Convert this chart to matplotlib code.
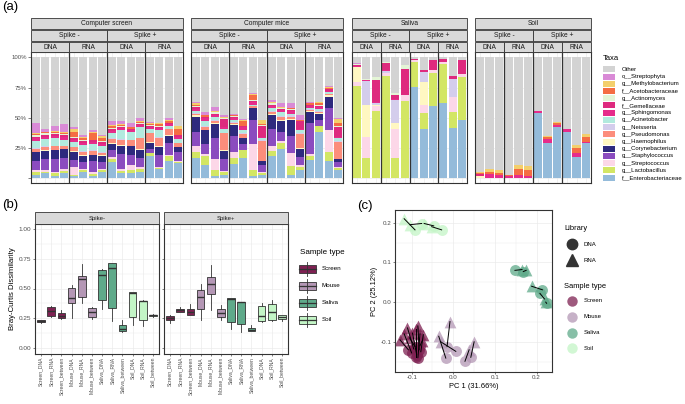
import numpy as np
import matplotlib
matplotlib.use("Agg")
import matplotlib.pyplot as plt
from matplotlib.patches import Rectangle

plt.rcParams['font.family'] = ['Liberation Sans', 'DejaVu Sans']

W, H = 685, 404

# ---------------- data: panel (a) relative abundance (%) ----------------
taxa = ["f__Enterobacteriaceae", "g__Lactobacillus", "g__Streptococcus",
        "g__Staphylococcus", "g__Corynebacterium", "g__Haemophilus",
        "g__Pseudomonas", "g__Neisseria", "g__Acinetobacter", "g__Sphingomonas",
        "f__Gemellaceae", "g__Actinomyces", "f__Acetobacteraceae",
        "g__Methylobacterium", "o__Streptophyta"]
taxa_colors = ["#94BBDA", "#D3E664", "#FCD7E8", "#8B4CBF", "#2E2A7E",
               "#FFF7C2", "#FC8D7B", "#D4CDEC", "#B2EADE", "#E62C8B",
               "#DE2A7E", "#E4F5D6", "#F56D43", "#F3CF6C", "#D98AD6"]
other_color = "#D3D3D3"

groups = ["Computer screen", "Computer mice", "Saliva", "Soil"]
spikes = ["Spike -", "Spike +"]
libraries = ["DNA", "RNA"]

# rows: Spike- DNA, Spike- RNA, Spike+ DNA, Spike+ RNA (bars in order); columns follow taxa
screen_bars = [
    [3, 2, 1.5, 7.5, 7.5, 0.5, 2.5, 0.5, 6, 2, 1.5, 1, 1, 0.5, 9],
    [4, 1.5, 1, 9, 7, 0.5, 3, 0.5, 6, 2, 1.5, 1, 1, 0.5, 2],
    [2, 2, 1, 11, 7, 0.5, 3, 0.5, 6, 2, 1.5, 1, 1, 0.5, 4],
    [4, 2, 2, 9, 7, 0.5, 2, 0.5, 5, 2, 1.5, 1, 1, 1, 6],
    [1.5, 1.5, 6, 6, 7, 0.5, 3, 0.5, 4, 2, 1.5, 0.5, 4, 3, 1],
    [5, 1.5, 1, 6, 5, 0.5, 3, 0.5, 5, 2, 1.5, 0.5, 2, 1, 1],
    [2, 1.5, 1.5, 9, 5, 0.5, 3, 0.5, 5, 2, 1.5, 0.5, 5, 1, 1.5],
    [5, 1.5, 1, 6, 5, 0.5, 2, 0.5, 5, 2, 1.5, 0.5, 3, 1.5, 1],
    [13, 2.5, 2, 6, 5, 0.5, 3.5, 0.5, 4, 2, 1.5, 1, 1.5, 1, 3.5],
    [4, 2, 2, 12, 7, 0.5, 4.5, 0.5, 7.5, 1.5, 1, 0.5, 1, 1, 2],
    [4, 3, 3.5, 9, 7, 0.5, 4.5, 0.5, 6, 1.5, 1, 0.5, 1, 0.5, 3.5],
    [5.5, 2, 1.5, 7.5, 7, 0.5, 9, 0.5, 9, 1.5, 1, 0.5, 1, 0.5, 3],
    [18, 2.5, 0.5, 3, 5.5, 0.5, 7, 0.5, 3, 2, 1, 0.5, 1, 1, 0.5],
    [7.5, 1, 1, 9.5, 7, 0.5, 7, 0.5, 5.5, 2, 1, 0.5, 1.5, 1, 0.5],
    [14, 4.5, 1, 10, 5.5, 0.5, 5, 0.5, 2, 1.5, 1, 0.5, 1.5, 1, 1.5],
    [12.5, 1, 0.5, 7.5, 4, 0.5, 3, 0.5, 3, 2, 1, 0.5, 5, 2, 0.5],
]
mice_bars = [
    [17, 4.5, 5, 11.5, 12.5, 1.5, 1, 1, 1.5, 2, 1.5, 1, 1, 1, 1],
    [11, 7, 2, 8, 11.5, 0.5, 2.5, 1, 4, 2, 1, 0.5, 1, 0.5, 2],
    [2, 5, 9, 17, 12, 1, 1.5, 1, 2, 2, 1, 1, 0.5, 0.5, 3.5],
    [3, 2, 1, 9.5, 7, 0.5, 14, 0.5, 3.5, 1, 7, 0.5, 0.5, 0.5, 2],
    [12, 5, 4.5, 13.5, 9, 1, 1, 0.5, 2, 1.5, 1, 0.5, 0.5, 0.5, 1],
    [17, 6, 0.5, 4.5, 5, 0.5, 3, 0.5, 3, 2, 1, 0.5, 4, 1, 0.5],
    [1.5, 5, 21.5, 20, 10, 0.5, 1, 0.5, 1, 2, 1, 0.5, 4.5, 1, 0.5],
    [3, 1.5, 1, 5.5, 3, 0.5, 16.5, 0.5, 2, 1, 9, 0.5, 1, 3, 0.5],
    [18, 4.5, 4, 14, 12, 1, 1.5, 1, 2, 2, 1, 1, 0.5, 0.5, 2],
    [24, 5, 2, 7, 9.5, 1, 2, 1, 3, 2, 1, 0.5, 0.5, 0.5, 3.5],
    [3, 7, 11, 14, 13, 1, 2, 1, 1.5, 2, 1, 1, 0.5, 0.5, 4],
    [6.5, 2.5, 2, 6.5, 7, 0.5, 11.5, 0.5, 2.5, 1, 6.5, 0.5, 0.5, 0.5, 3.5],
    [15, 3, 2, 26, 9, 1, 0.5, 0.5, 1, 1.5, 1, 0.5, 1, 0.5, 0.5],
    [38, 5, 0.5, 4.5, 5.5, 0.5, 1, 0.5, 1.5, 2, 1, 0.5, 1.5, 1, 0.5],
    [14.5, 7.5, 18, 18, 9.5, 1, 1, 0.5, 1, 1.5, 1, 0.5, 1, 0.5, 0.5],
    [6.5, 2, 1, 4, 2, 0.5, 14, 0.5, 2.5, 1, 8.5, 0.5, 3, 3, 0.5],
]
saliva_bars = [
    [0, 76, 3.3, 0, 0, 12.5, 0, 0, 0, 1, 1, 1, 0, 0, 0.5],
    [0, 16.5, 18, 0, 0, 26.5, 0, 19.5, 0, 0.5, 0.5, 0.5, 0, 0, 0],
    [0, 55.5, 4.5, 0, 0, 1, 0, 1, 0, 1, 18, 3, 0, 0, 0],
    [0, 85, 2, 0, 0, 0, 0, 2, 0, 1, 5.5, 0.5, 0, 0, 0],
    [0, 16.5, 24, 0, 0, 5.5, 0, 19, 0, 0.5, 3.5, 1.5, 0, 0, 0],
    [0, 64, 4.5, 0, 0, 0, 0, 0, 0, 0, 22, 3.5, 0, 0, 0],
    [75.5, 20.5, 2, 0, 0, 0, 0, 0, 0, 0, 1, 0, 0, 0, 0],
    [40.5, 13.5, 6.3, 0, 0, 19, 0, 9, 0, 0, 1, 0, 0, 0, 0],
    [60, 27.5, 2.5, 0, 0, 0, 0, 0, 0, 0, 7.5, 0, 0, 0, 0],
    [62, 32.5, 2, 0, 0, 0, 0, 0, 0, 0, 2, 0, 0, 0, 0],
    [41.5, 13.5, 12, 0, 0, 0, 0, 15, 0, 0, 2.5, 0, 0, 0, 0],
    [48.5, 35.5, 2, 0, 0, 0, 0, 0, 0, 0, 12, 0, 0, 0, 0],
]
soil_bars = [
    [0, 0, 0, 0, 0, 1.5, 0, 0, 0, 0, 2, 0, 1, 1, 0],
    [0, 0, 0, 0, 0, 0, 0, 0, 0, 3.3, 0, 0, 1.6, 2.5, 0],
    [0, 0, 0, 0, 0, 0, 0, 0, 0, 3, 0, 0, 1.6, 2.2, 0],
    [0, 0, 0, 0, 0, 0, 0, 0, 0, 1.5, 0, 0, 1, 0.3, 0],
    [0, 0, 0, 0, 0, 0, 0, 0, 0, 2.5, 0, 0, 5, 3.5, 0],
    [0, 0, 0, 0, 0, 0, 0, 0, 0, 2, 0, 0, 4.5, 3.5, 0],
    [54, 0, 0, 0, 0, 0, 0, 0, 0, 1.6, 0, 0, 0, 0, 0],
    [28.8, 0, 0, 0, 0, 0, 0, 0, 0, 4, 0, 0, 1, 1, 0],
    [42, 0, 0, 0, 0, 0, 0, 0, 0, 2, 0, 0, 1.5, 1, 0],
    [38.4, 0, 0, 0, 0, 0, 0, 0, 0, 2, 0, 0, 0, 0.6, 0],
    [17.3, 0, 0, 0, 0, 0, 0, 0, 0, 3.3, 0, 0, 4, 2.7, 0],
    [28.8, 0, 0, 0, 0, 0, 0, 0, 0, 1.5, 0, 0, 3.5, 2.7, 0],
]

# ---------------- data: panel (b) Bray-Curtis boxplots ----------------
box_categories = ["Screen_DNA", "Screen_RNA", "Screen_between",
                  "Mouse_DNA", "Mouse_RNA", "Mouse_between",
                  "Saliva_DNA", "Saliva_RNA", "Saliva_between",
                  "Soil_DNA", "Soil_RNA", "Soil_between"]
sample_types = ["Screen", "Mouse", "Saliva", "Soil"]
type_colors = ["#7E2152", "#B497B5", "#5FAA8A", "#C3F5C6"]

minus_lo = [0.21, 0.26, 0.245, 0.25, 0.375, 0.245, 0.33, 0.225, 0.13, 0.19, 0.18, 0.262]
minus_q1 = [0.215, 0.27, 0.248, 0.375, 0.43, 0.262, 0.40, 0.338, 0.14, 0.26, 0.235, 0.265]
minus_med = [0.225, 0.31, 0.268, 0.42, 0.58, 0.30, 0.615, 0.676, 0.16, 0.46, 0.395, 0.272]
minus_q3 = [0.234, 0.346, 0.29, 0.507, 0.605, 0.338, 0.656, 0.713, 0.19, 0.467, 0.397, 0.28]
minus_hi = [0.235, 0.35, 0.318, 0.53, 0.705, 0.345, 0.665, 0.72, 0.23, 0.467, 0.40, 0.285]

plus_lo = [0.205, 0.30, 0.275, 0.23, 0.315, 0.235, 0.155, 0.135, 0.14, 0.22, 0.225, 0.225]
plus_q1 = [0.235, 0.305, 0.28, 0.33, 0.45, 0.26, 0.22, 0.20, 0.14, 0.225, 0.235, 0.24]
plus_med = [0.25, 0.318, 0.30, 0.43, 0.54, 0.29, 0.41, 0.39, 0.15, 0.265, 0.30, 0.255]
plus_q3 = [0.27, 0.33, 0.33, 0.49, 0.60, 0.33, 0.42, 0.39, 0.165, 0.355, 0.37, 0.275]
plus_hi = [0.275, 0.34, 0.37, 0.535, 0.70, 0.36, 0.42, 0.39, 0.195, 0.38, 0.40, 0.28]

# ---------------- data: panel (c) PCoA ----------------
screen_dna_x = [-0.095, -0.082, -0.100, -0.088, -0.085, -0.078, -0.108, -0.080, -0.092, -0.090]
screen_dna_y = [-0.118, -0.120, -0.128, -0.132, -0.140, -0.125, -0.120, -0.110, -0.112, -0.138]
screen_rna_x = [-0.110, -0.085, -0.118, -0.098, -0.080, -0.072, -0.128, -0.075, -0.105, -0.090]
screen_rna_y = [-0.065, -0.060, -0.080, -0.078, -0.080, -0.082, -0.095, -0.098, -0.090, -0.068]
mouse_dna_x = [-0.018, -0.015, 0.006, 0.042, 0.028]
mouse_dna_y = [-0.141, -0.112, -0.124, -0.139, -0.149]
mouse_rna_x = [-0.035, -0.008, -0.030, 0.050, 0.038]
mouse_rna_y = [-0.086, -0.049, -0.100, -0.100, -0.120]
saliva_dna_x = [0.148, 0.168, 0.214, 0.208, 0.224]
saliva_dna_y = [0.080, 0.077, 0.031, 0.022, -0.003]
saliva_rna_x = [0.165, 0.175, 0.188, 0.219, 0.222]
saliva_rna_y = [0.082, 0.080, 0.040, 0.008, 0.000]
soil_dna_x = [-0.092, -0.076, -0.047, -0.028]
soil_dna_y = [0.182, 0.198, 0.192, 0.182]
soil_rna_x = [-0.118, -0.104, -0.070, -0.052]
soil_rna_y = [0.210, 0.195, 0.198, 0.190]

GRID = "#EBEBEB"
BORDER = "#333333"
TICK = "#4D4D4D"


def frac(x0, y0, x1, y1):
    return [x0 / W, 1 - y1 / H, (x1 - x0) / W, (y1 - y0) / H]


fig = plt.figure(figsize=(W / 100, H / 100), dpi=100)
strips = []


def style_frame(ax):
    for s in ax.spines.values():
        s.set_color(BORDER)
        s.set_linewidth(0.8)
    ax.set_axisbelow(True)


# ---------------- panel (a) ----------------
group_bars = [screen_bars, mice_bars, saliva_bars, soil_bars]
group_x = [(31, 183), (191, 343), (352, 467), (475, 591)]
for g, (name, rows, (x0, x1)) in enumerate(zip(groups, group_bars, group_x)):
    rows = np.array(rows, dtype=float)
    n = len(rows) // 4
    ax = fig.add_axes(frac(x0, 52, x1, 183))
    pos = np.array([k * n + i + 0.5 for k in range(4) for i in range(n)])
    bottom = np.zeros(len(rows))
    for j, c in enumerate(taxa_colors):
        ax.bar(pos, rows[:, j], bottom=bottom, width=0.83, color=c, lw=0)
        bottom += rows[:, j]
    ax.bar(pos, 100 - bottom, bottom=bottom, width=0.83, color=other_color, lw=0)
    for k in range(1, 4):
        ax.axvline(k * n, color=BORDER, lw=0.9)
    ax.set_xlim(0, 4 * n)
    ax.set_ylim(-4, 104.5)
    ax.set_xticks(pos)
    ax.set_xticklabels([])
    ax.tick_params(axis='x', length=0)
    ax.set_yticks([0, 25, 50, 75, 100])
    ax.grid(True, color=GRID, lw=0.5)
    if g == 0:
        ax.set_yticklabels(["", "25%", "50%", "75%", "100%"], fontsize=4.3, color=TICK)
        ax.tick_params(axis='y', length=2, width=0.5, color=TICK, pad=1)
    else:
        ax.set_yticklabels([])
        ax.tick_params(axis='y', length=0)
    style_frame(ax)
    xm = (x0 + x1) / 2
    strips.append((x0, 18, x1, 29, name))
    strips.append((x0, 30, xm, 40.5, spikes[0]))
    strips.append((xm, 30, x1, 40.5, spikes[1]))
    q = (x1 - x0) / 4
    for k in range(4):
        strips.append((x0 + k * q, 41.5, x0 + (k + 1) * q, 52, libraries[k % 2]))

# ---------------- panel (b) ----------------
box_colors = [type_colors[i // 3] for i in range(12)]
b_sets = [("Spike-", minus_lo, minus_q1, minus_med, minus_q3, minus_hi, 35, 159),
          ("Spike+", plus_lo, plus_q1, plus_med, plus_q3, plus_hi, 164, 288)]
for bi, (label, lo, q1, med, q3, hi, x0, x1) in enumerate(b_sets):
    ax = fig.add_axes(frac(x0, 223.5, x1, 353.5))
    stats = [dict(whislo=lo[i], q1=q1[i], med=med[i], q3=q3[i], whishi=hi[i])
             for i in range(12)]
    bp = ax.bxp(stats, positions=np.arange(1, 13), widths=0.75, patch_artist=True,
                showfliers=False, showcaps=False,
                boxprops=dict(lw=0.6, edgecolor=BORDER),
                medianprops=dict(color=BORDER, lw=1.0),
                whiskerprops=dict(color=BORDER, lw=0.6))
    for patch, c in zip(bp['boxes'], box_colors):
        patch.set_facecolor(c)
    ax.set_xlim(0.4, 12.6)
    ax.set_ylim(-0.05, 1.05)
    ax.set_yticks([0, 0.25, 0.5, 0.75, 1.0])
    ax.set_yticks([0.125, 0.375, 0.625, 0.875], minor=True)
    ax.set_xticks(np.arange(1, 13))
    ax.set_xticklabels(box_categories, rotation=90, fontsize=3.6, color=TICK)
    ax.grid(True, which='major', color=GRID, lw=0.5)
    ax.grid(True, which='minor', axis='y', color=GRID, lw=0.3)
    ax.tick_params(axis='both', which='major', length=1.5, width=0.5, color=TICK, pad=1)
    ax.tick_params(axis='y', which='minor', length=0)
    if bi == 0:
        ax.set_yticklabels(["0.00", "0.25", "0.50", "0.75", "1.00"], fontsize=4.6, color=TICK)
        ax.set_ylabel("Bray-Curtis Dissimilarity", fontsize=5.6, labelpad=2)
    else:
        ax.set_yticklabels([])
    style_frame(ax)
    strips.append((x0, 212, x1, 223.5, label))

# ---------------- panel (c) ----------------
axc = fig.add_axes(frac(395, 210, 552, 372))
pc_sets = [(screen_dna_x, screen_dna_y, screen_rna_x, screen_rna_y),
           (mouse_dna_x, mouse_dna_y, mouse_rna_x, mouse_rna_y),
           (saliva_dna_x, saliva_dna_y, saliva_rna_x, saliva_rna_y),
           (soil_dna_x, soil_dna_y, soil_rna_x, soil_rna_y)]
for (dx, dy, rx, ry), c in zip(pc_sets, type_colors):
    axc.scatter(dx, dy, s=62, marker='o', color=c, alpha=0.75, lw=0, zorder=2)
    axc.scatter(rx, ry, s=72, marker='^', color=c, alpha=0.75, lw=0, zorder=2)
    for a, b, e, f in zip(dx, dy, rx, ry):
        axc.plot([a, e], [b, f], color='black', lw=0.7, zorder=3)
axc.set_xlim(-0.14, 0.237)
axc.set_ylim(-0.176, 0.232)
axc.set_xticks([-0.1, 0.0, 0.1, 0.2])
axc.set_xticklabels(["-0.1", "0.0", "0.1", "0.2"], fontsize=4.5, color=TICK)
axc.set_yticks([-0.1, 0.0, 0.1, 0.2])
axc.set_yticklabels(["-0.1", "0.0", "0.1", "0.2"], fontsize=4.5, color=TICK)
axc.set_xticks([-0.05, 0.05, 0.15], minor=True)
axc.set_yticks([-0.15, -0.05, 0.05, 0.15], minor=True)
axc.grid(True, which='major', color=GRID, lw=0.5)
axc.grid(True, which='minor', color=GRID, lw=0.3)
axc.tick_params(which='major', length=1.5, width=0.5, color=TICK, pad=1)
axc.tick_params(which='minor', length=0)
axc.set_xlabel("PC 1 (31.66%)", fontsize=5.4, labelpad=1.5)
axc.set_ylabel("PC 2 (25.12%)", fontsize=5.4, labelpad=2)
style_frame(axc)

# ---------------- overlay: strips, legends, panel tags ----------------
ov = fig.add_axes([0, 0, 1, 1])
ov.set_xlim(0, W)
ov.set_ylim(H, 0)
ov.axis('off')
ov.patch.set_alpha(0)

for x0, y0, x1, y1, txt in strips:
    ov.add_patch(Rectangle((x0, y0), x1 - x0, y1 - y0, fc="#D9D9D9", ec=BORDER, lw=0.6))
    ov.text((x0 + x1) / 2, (y0 + y1) / 2 + 0.3, txt, ha='center', va='center',
            fontsize=4.8 if y0 < 60 else 4.3, color="#1A1A1A")

# taxa legend
ov.text(603, 58.5, "Taxa", fontsize=5.5, va='center', ha='left')
legend_names = ["Other"] + taxa[::-1]
legend_cols = [other_color] + taxa_colors[::-1]
for i, (nm, c) in enumerate(zip(legend_names, legend_cols)):
    yc = 69.3 + i * 7.22
    ov.add_patch(Rectangle((603, yc - 3), 12, 6, fc=c, lw=0))
    ov.text(622, yc, nm, fontsize=4.3, va='center', ha='left')

# sample type legend (b)
ov.text(300, 253, "Sample type", fontsize=5.8, va='center', ha='left')
for i, (nm, c) in enumerate(zip(sample_types, type_colors)):
    yc = 269 + i * 16.9
    ov.plot([307.5, 307.5], [yc - 7, yc + 7], color=BORDER, lw=0.6)
    ov.add_patch(Rectangle((299, yc - 4), 17, 8, fc=c, ec=BORDER, lw=0.6))
    ov.plot([299, 316], [yc, yc], color=BORDER, lw=0.9)
    ov.text(322, yc, nm, fontsize=4.5, va='center', ha='left')

# library / sample type legend (c)
ov.text(564, 229, "Library", fontsize=5.4, va='center', ha='left')
ov.plot([572], [244], marker='o', ms=7.5, color="#333333", ls='none')
ov.plot([572], [259.5], marker='^', ms=8, color="#333333", ls='none')
ov.text(584, 244, "DNA", fontsize=4.3, va='center', ha='left')
ov.text(584, 260, "RNA", fontsize=4.3, va='center', ha='left')
ov.text(564, 286, "Sample type", fontsize=5.4, va='center', ha='left')
for i, (nm, c) in enumerate(zip(sample_types, type_colors)):
    yc = 301 + i * 15.8
    ov.plot([572], [yc], marker='o', ms=7.5, color=c, alpha=0.75, ls='none', mew=0)
    ov.text(584, yc, nm, fontsize=4.3, va='center', ha='left')

ov.text(2, 7, "(a)", fontsize=9.5, va='center', ha='left')
ov.text(2, 205, "(b)", fontsize=9.5, va='center', ha='left')
ov.text(357, 206, "(c)", fontsize=9.5, va='center', ha='left')

fig.savefig("out.png", dpi=100)
